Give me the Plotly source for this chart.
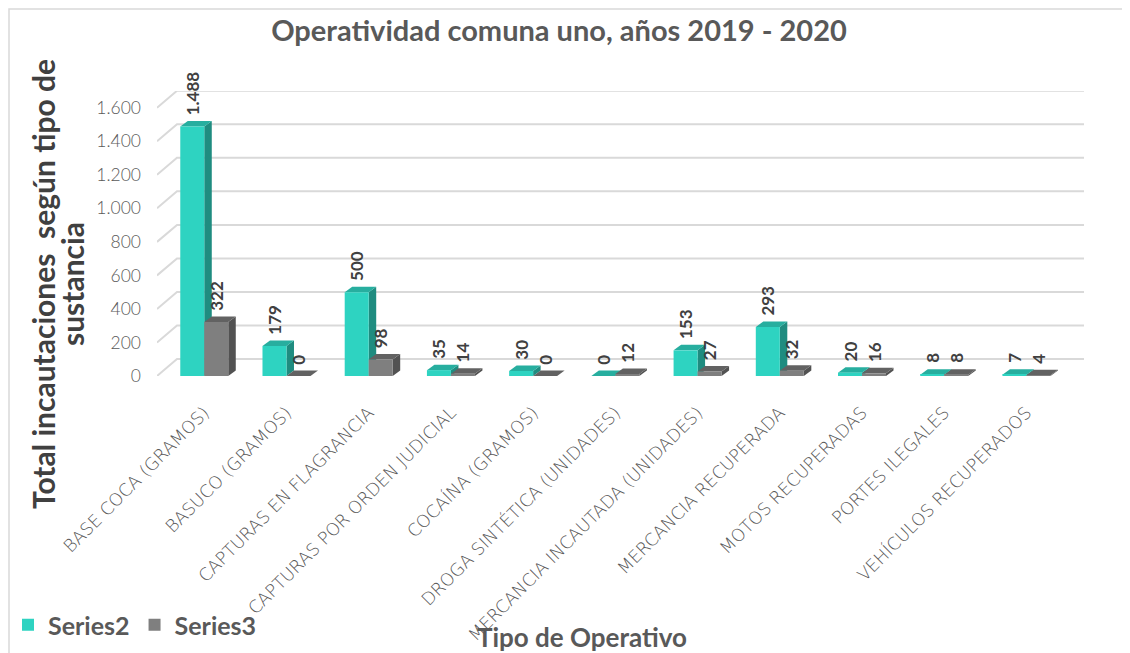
import plotly.graph_objects as go

categorias = ["BASE COCA (GRAMOS)", "BASUCO (GRAMOS)", "CAPTURAS EN FLAGRANCIA",
              "CAPTURAS POR ORDEN JUDICIAL", "COCAÍNA (GRAMOS)",
              "DROGA SINTÉTICA (UNIDADES)", "MERCANCIA INCAUTADA (UNIDADES)",
              "MERCANCIA RECUPERADA", "MOTOS RECUPERADAS", "PORTES ILEGALES",
              "VEHÍCULOS RECUPERADOS"]
series2 = [1488, 179, 500, 35, 30, 0, 153, 293, 20, 8, 7]
series3 = [322, 0, 98, 14, 0, 12, 27, 32, 16, 8, 4]
y_ticks = [0, 200, 400, 600, 800, 1000, 1200, 1400, 1600]

W, H = 1130, 653
OFF = 8  # page body margin of the html page
# target plot box in picture pixels: x 157..1084, y 91..376
L, R = 157 - OFF, W - (1084 - OFF)
T, B = 91 - OFF, H - (376 - OFF)
xr = [-0.575, 10.7]
yr = [0, 1700]
pw, ph = W - L - R, H - T - B
xpx = pw / (xr[1] - xr[0])   # pixels per category
ypx = ph / (yr[1] - yr[0])   # pixels per unit


def px(x):
    return (x - OFF - L) / pw


def py(y):
    return (H - B - (y - OFF)) / ph


def fmt(v):
    return f"{v:,}".replace(",", ".")


bw = 24 / xpx
dx, dy = 7.5 / xpx, 5.5 / ypx
gx, gy = 20 / xpx, 17 / ypx

idx = list(range(len(categorias)))
specs = [("Series2", series2, -bw, "#2ED3C1", "#1F8C80", "#27AE9F"),
         ("Series3", series3, 0.0, "#7F7F7F", "#525252", "#626262")]

shapes = []
for v in y_ticks:
    shapes.append(dict(type="path", layer="below",
                       path=f"M {xr[0]},{v} L {xr[0]+gx},{v+gy} L {xr[1]},{v+gy}",
                       line=dict(color="#D9D9D9", width=2)))

fig = go.Figure()
for name, vals, off, c_front, c_side, c_top in specs:
    fig.add_trace(go.Bar(
        x=idx, y=vals, name=name, offset=off, width=bw,
        marker=dict(color=c_front, line=dict(width=0)),
        text=["\u00a0\u00a0" + fmt(v) for v in vals], textposition="outside",
        textangle=-90, constraintext="none", cliponaxis=False,
        textfont=dict(family="Lato", size=17, color="#404040", weight="bold"),
    ))
    for i, v in zip(idx, vals):
        x0 = i + off
        x1 = x0 + bw
        shapes.append(dict(type="path", layer="between", line=dict(width=0),
                           fillcolor=c_side,
                           path=f"M {x1},0 L {x1+dx},{dy} L {x1+dx},{v+dy} L {x1},{v} Z"))
        shapes.append(dict(type="path", layer="between", line=dict(width=0),
                           fillcolor=c_top,
                           path=f"M {x0},{v} L {x1},{v} L {x1+dx},{v+dy} L {x0+dx},{v+dy} Z"))

# chart border
shapes.append(dict(type="rect", xref="paper", yref="paper", layer="below",
                   x0=px(9), x1=px(1124), y0=py(670), y1=py(9),
                   line=dict(color="#D9D9D9", width=1.5)))

fig.update_layout(
    width=W, height=H, margin=dict(l=L, r=R, t=T, b=B, autoexpand=False),
    paper_bgcolor="white", plot_bgcolor="white",
    separators=",.", barmode="overlay", shapes=shapes,
    font=dict(family="Lato", color="#595959"),
    title=dict(text="Operatividad comuna uno, años 2019 - 2020",
               x=(559 - OFF) / W, xanchor="center", y=1 - (31 - OFF) / H,
               yanchor="middle",
               font=dict(family="Lato", size=29, color="#595959", weight="bold")),
    xaxis=dict(range=xr, tickvals=idx, ticktext=categorias, tickangle=-45,
               showgrid=False, zeroline=False, showline=False, ticks="",
               ticklabelstandoff=22, automargin=False,
               tickfont=dict(family="DejaVu Sans", size=17.5, color="#595959",
                             weight=200)),
    yaxis=dict(range=yr, tickvals=y_ticks, ticktext=[fmt(v) for v in y_ticks],
               showgrid=False, zeroline=False, showline=False, ticks="",
               ticklabelstandoff=15, automargin=False,
               tickfont=dict(family="Lato", size=17.5, color="#595959", weight=300)),
    legend=dict(orientation="h", x=px(8), xanchor="left", y=py(625),
                yanchor="middle", font=dict(family="Lato", size=25, color="#595959",
                                            weight="bold"),
                itemwidth=30, traceorder="normal", bgcolor="rgba(0,0,0,0)"),
    annotations=[
        dict(text="Total incautaciones  según tipo de", textangle=-90,
             xref="paper", yref="paper", x=px(43), y=py(284), xanchor="center",
             yanchor="middle", showarrow=False,
             font=dict(family="Lato", size=30, color="#404040", weight="bold")),
        dict(text="sustancia", textangle=-90,
             xref="paper", yref="paper", x=px(72), y=py(284), xanchor="center",
             yanchor="middle", showarrow=False,
             font=dict(family="Lato", size=30, color="#404040", weight="bold")),
        dict(text="Tipo de Operativo", xref="paper", yref="paper",
             x=px(582), y=py(637), xanchor="center", yanchor="middle",
             showarrow=False,
             font=dict(family="Lato", size=26, color="#595959", weight="bold")),
    ],
)

fig.write_html("out.html")
